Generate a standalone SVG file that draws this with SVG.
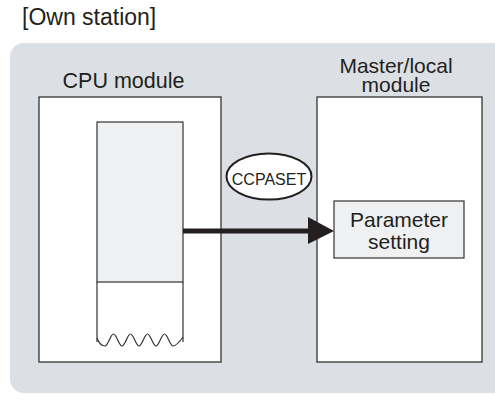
<svg xmlns="http://www.w3.org/2000/svg" width="495" height="405" viewBox="0 0 495 405">
<style>
.t{font-family:"Liberation Sans",Arial,sans-serif;fill:#231f20}
.box{fill:#fff;stroke:#333;stroke-width:1.3}
.inner{fill:#eff0f2;stroke:#333;stroke-width:1.2}
</style>
<rect width="495" height="405" fill="#fff"/>
<text class="t" x="22" y="25" font-size="23">[Own station]</text>
<rect x="10" y="43" width="500" height="350" rx="14" fill="#dcdfe4"/>
<g id="cpu">
<text class="t" x="123.5" y="88" font-size="21.5" text-anchor="middle">CPU module</text>
<rect class="box" x="39" y="97" width="182" height="265"/>
<rect class="inner" x="97" y="122" width="86" height="160"/>
<path d="M97,282 V342 M183,282 V342" fill="none" stroke="#333" stroke-width="1.2"/>
<path d="M97,338 Q100,346 105,346 C108.1,346 110.4,334 113.5,334 C116.6,334 118.9,346 122,346 C125.1,346 127.4,334 130.5,334 C133.6,334 135.9,346 139,346 C142.1,346 144.4,334 147.5,334 C150.6,334 152.9,346 156,346 C159.1,346 161.4,334 164.5,334 C167.6,334 169.9,346 173,346 C176.6,346 180,341 183,337" fill="none" stroke="#333" stroke-width="1.2"/>
</g>
<g id="master">
<text class="t" x="396" y="73" font-size="21" text-anchor="middle">Master/local</text>
<text class="t" x="396" y="91.5" font-size="21" text-anchor="middle">module</text>
<rect class="box" x="317" y="97" width="165" height="265"/>
</g>
<g id="param">
<rect class="inner" x="334" y="201" width="130" height="57"/>
<text class="t" x="399" y="227" font-size="21" text-anchor="middle">Parameter</text>
<text class="t" x="399" y="249" font-size="21" text-anchor="middle">setting</text>
</g>
<g id="connectors">
<line x1="183" y1="231" x2="310" y2="231" stroke="#231f20" stroke-width="5"/>
<polygon points="308,217 334,231 308,244" fill="#231f20"/>
</g>
<g id="ccpaset">
<ellipse cx="269" cy="176.5" rx="42.5" ry="23" fill="#fff" stroke="#231f20" stroke-width="2"/>
<text class="t" x="269" y="184.5" font-size="16" text-anchor="middle">CCPASET</text>
</g>
</svg>
